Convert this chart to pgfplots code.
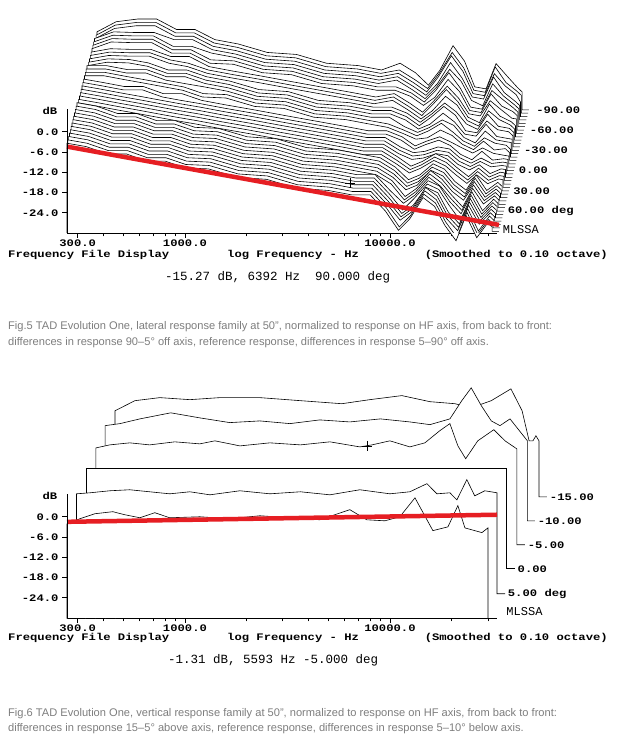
\documentclass[border=0pt]{standalone}
\usepackage{fontspec}
\usepackage{pgfplots}
\usepackage{pgfplotstable}
\pgfplotsset{compat=1.18}
\setmainfont{Liberation Sans}
\newfontfamily\mono{Liberation Mono}
\newfontfamily\monow[FakeStretch=1.22]{Liberation Mono}
\definecolor{capgray}{RGB}{125,125,125}
\definecolor{redline}{RGB}{230,30,35}

\pgfplotstableread{
f T m c0 c1 c2 c3 c4 c5 c6 c7 c8 c9 c10 c11 c12 c13 c14 c15 c16 c17 c18 c19 c20 c21 c22 c23 c24 c25 c26 c27 c28 c29 c30 c31 c32 c33 c34 c35 c36
266 -30 0     0 0 0 0 0 0 0 0 0 0 0 0 0 0 0 0 0 0 0   0 0 0 0 0 0 0 0 0 0 0 0 0 0 0 0 0 0
266 -4.4 1    1 1 1 1 1 1 1 1 1 1 1 1 1 0 0 0 0 0 0   0 0 0 0 0 0 -1 -1 -1 -1 -1 -1 -1 -1 -1 -2 -2 -2
330 -5.4 1    1 1 1 1 1 1 1 1 1 1 1 1 1 0 0 0 0 0 0   0 0 1 1 1 1 1 1 1 1 1 2 2 2 2 2 2 2
420 -6.6 1    0 0 0 0 0 0 0 0 0 0 0 0 0 0 0 0 0 0 0   0 0 1 1 1 1 2 2 2 2 2 3 3 3 3 4 4 4
520 -7.6 1    1 1 1 1 1 1 1 1 1 1 1 1 1 0 0 0 0 0 0   1 1 1 1 2 2 2 2 3 3 3 4 4 4 4 5 5 5
650 -8.7 1    0 0 0 0 0 0 0 0 0 0 0 0 0 0 0 0 0 0 0   0 0 1 1 1 1 1 1 2 2 2 2 2 2 3 3 3 3
800 -9.7 1    1 1 1 1 1 1 1 1 1 1 1 1 1 0 0 0 0 0 0   0 1 1 1 1 2 2 2 2 2 3 3 3 3 4 4 4 4
1000 -10.7 1  0 0 0 0 0 0 0 0 0 0 0 0 0 0 0 0 0 0 0   0 0 0 0 1 1 1 1 1 1 1 1 1 2 2 2 2 2
1300 -12.0 1  1 1 1 1 1 1 1 1 1 1 1 1 1 0 0 0 0 0 0   0 0 1 1 1 1 1 1 1 1 1 2 2 2 2 2 2 2
1800 -13.5 1  0 0 0 0 0 0 0 0 0 0 0 0 0 0 0 0 0 0 0   0 0 0 0 0 0 0 0 1 1 1 1 1 1 1 1 1 1
2500 -15.1 1  1 1 1 1 1 1 1 1 1 1 1 1 1 0 0 0 0 0 0   0 0 1 1 1 1 1 1 1 1 1 2 2 2 2 2 2 2
3500 -16.7 1  0 0 0 0 0 0 0 0 0 0 0 0 0 0 0 0 0 0 0   0 0 0 0 0 0 0 0 1 1 1 1 1 1 1 1 1 1
5000 -18.4 1  1 1 1 1 1 1 1 1 1 1 1 1 1 0 0 0 0 0 0   0 0 1 1 1 1 1 1 1 1 1 2 2 2 2 2 2 2
6500 -19.7 1  1 1 1 1 1 1 1 1 1 1 1 1 1 0 0 0 0 0 0   0 0 1 1 1 1 1 1 1 1 1 2 2 2 2 2 2 2
8000 -20.7 1  2 2 2 2 2 2 2 1 1 1 1 1 1 1 1 1 1 1 1   1 1 1 1 2 2 2 2 3 3 3 3 3 4 4 4 4 5
9500 -21.5 1  -2 -2 -2 -2 -2 -2 -2 -1 -1 -1 -1 -1 -1 -1 -1 -1 -1 -1 -1   0 0 0 0 0 1 1 1 1 1 1 2 2 2 2 2 2 3
11000 -22.2 1 -7 -7 -6 -6 -6 -6 -5 -5 -5 -4 -4 -4 -4 -3 -3 -3 -2 -2 -2   -2 -2 -1 -1 -1 -1 -1 -1 -1 -1 -1 0 0 0 0 0 0 0
12500 -22.8 1 -3 -3 -3 -3 -3 -2 -2 -2 -2 -2 -2 -2 -2 -1 -1 -1 -1 -1 -1   0 0 0 1 1 1 2 2 2 3 3 3 4 4 4 5 5 5
14500 -23.5 1 4 4 4 4 3 3 3 3 3 3 2 2 2 2 2 2 1 1 1   2 2 3 4 4 5 6 6 7 8 8 9 10 10 11 12 12 13
16500 -24.1 1 2 2 2 2 2 2 2 1 1 1 1 1 1 1 1 1 1 1 1   1 1 2 2 3 3 4 4 5 5 5 6 6 7 7 8 8 9
18500 -24.7 1 -3 -3 -3 -3 -3 -2 -2 -2 -2 -2 -2 -2 -2 -1 -1 -1 -1 -1 -1   -1 0 0 0 0 0 0 1 1 1 1 1 1 2 2 2 2 2
21000 -25.3 1 -7 -7 -6 -6 -6 -6 -5 -5 -5 -4 -4 -4 -4 -3 -3 -3 -2 -2 -2   -2 -1 -1 -1 -1 0 0 0 0 0 1 1 1 1 2 2 2 2
23500 -25.8 1 1 1 1 1 1 1 1 1 1 1 1 1 1 0 0 0 0 0 0   1 1 2 2 3 4 4 5 5 6 6 7 7 8 9 9 10 10
26500 -26.4 1 -5 -5 -5 -4 -4 -4 -4 -4 -3 -3 -3 -3 -3 -2 -2 -2 -2 -1 -1   -1 0 0 1 1 1 2 2 3 3 4 4 5 5 5 6 6 7
30000 -27.0 1 0 0 0 0 0 0 0 0 0 0 0 0 0 0 0 0 0 0 0   0 0 1 1 1 1 2 2 2 2 2 3 3 3 3 4 4 4
31500 -27.2 1 -1 -1 -1 -1 -1 -1 -1 -1 -1 -1 -1 -1 -1 0 0 0 0 0 0   0 0 0 0 1 1 1 1 1 1 2 2 2 2 2 2 3 3
31500 -29.5 1 0 0 0 0 0 0 0 0 0 0 0 0 0 0 0 0 0 0 0   0 0 0 0 0 0 0 0 0 0 0 0 0 0 0 0 0 0
34000 -29.5 1 0 0 0 0 0 0 0 0 0 0 0 0 0 0 0 0 0 0 0   0 0 0 0 0 0 0 0 0 0 0 0 0 0 0 0 0 0
}\topdata

\pgfplotstableread{
f d
266 -30.2
266 -2.1
307 -0.6
364 0.9
445 1.5
509 0.6
603 -0.3
713 1.2
843 -0.3
1182 0
1656 -0.6
2318 0.3
3250 -0.3
4550 -0.9
6370 2.1
7710 -0.9
9440 -1.2
11170 0
13240 5.6
16190 -4.1
19170 -3.0
21440 3.3
23200 -3.3
28080 -4.7
30050 -3.3
30050 -30.2
}\bA
\pgfplotstableread{
f d
296 -30.2
296 6.8
344 7.1
430 7.7
538 8.0
673 7.4
843 6.8
1057 7.4
1324 6.5
1854 7.7
2596 6.8
3660 7.4
5094 6.5
7130 8.0
9990 6.8
12500 7.4
15140 9.8
16940 6.8
19600 7.1
21200 5.0
23700 11.0
25900 6.2
29000 7.7
33270 7.1
33270 -22.8
36400 -22.8
}\bB
\pgfplotstableread{
f d
329 -30.2
329 14.5
37100 14.5
37100 -15.4
40600 -15.4
}\bC
\pgfplotstableread{
f d
368 -30.2
368 20.4
430 21.3
538 21.9
673 21.3
893 22.2
1182 21.6
1400 22.5
1854 21.0
2596 21.9
3660 21.3
5094 22.2
7130 20.7
8170 21.3
9990 22.5
12500 20.7
14800 21.9
17500 25.5
19600 27.6
21440 21.0
23400 17.2
26800 22.5
32100 25.8
36400 22.5
41600 20.1
41600 -8.3
45500 -8.3
}\bD
\pgfplotstableread{
f d
408 -30.2
408 27.0
482 27.6
603 29.0
853 30.8
1182 29.3
1656 27.9
2318 28.4
3250 27.6
4550 28.7
6370 28.1
8980 29.0
12500 28.1
15670 27.3
19600 29.0
22400 34.4
24900 38.2
27900 32.9
31200 28.4
34400 27.0
38500 29.0
46800 22.5
46800 -1.2
50900 -1.2
}\bE
\pgfplotstableread{
f d
456 -30.2
456 31.4
570 34.4
755 35.3
1057 34.7
1479 35.3
2318 35.3
3660 34.4
5820 33.5
7980 34.7
11430 35.9
15670 34.1
20750 33.5
24900 32.3
31200 34.4
38900 37.9
44100 31.4
47700 22.5
49800 22.5
51500 24.0
53300 22.5
53300 5.9
58300 5.9
}\bF

\newcommand\tfont{\monow\bfseries\fontsize{10}{11}\selectfont}
\newcommand\cfont{\fontsize{11.1}{13}\selectfont}

\begin{document}
\begin{tikzpicture}[x=1pt,y=1pt]
\useasboundingbox (0,0) rectangle (617,742);

% ---------------- top chart ----------------
\begin{axis}[at={(67pt,509pt)}, anchor=south west, height=222.75pt, ymax=66,
    scale only axis, width=430pt,
    xmode=log, xmin=266, xmax=33270, ymin=0,
    clip=false,
    axis x line=bottom, axis y line=left,
    x axis line style={-, line width=0.7pt},
    y axis line style={draw=none},
    tick align=outside,
    xtick={300,1000,10000},
    xticklabels={300.0,1000.0,10000.0},
    minor xtick={400,500,600,700,800,900,2000,3000,4000,5000,6000,7000,8000,9000,20000,30000},
    ytick={6,12,18,24,30},
    yticklabels={-24.0,-18.0,-12.0,-6.0,0.0},
    major tick length=5pt, minor tick length=3.5pt,
    tick style={black, line width=0.6pt},
    tick label style={font=\tfont},
    xticklabel style={yshift=2pt}]
\pgfplotsinvokeforeach{36,35,...,0}{
  \addplot[draw=none, fill=white, forget plot]
    table[x expr=\thisrow{f}*1.0094^(#1), y expr=\thisrow{T}+30+\thisrow{c#1}+#1*\thisrow{m}] {\topdata} \closedcycle;
  \addplot[black, line width=0.6pt, forget plot]
    table[x expr=\thisrow{f}*1.0094^(#1), y expr=\thisrow{T}+30+\thisrow{c#1}+#1*\thisrow{m}] {\topdata};
}
\addplot[redline, line width=4.5pt] coordinates {(266,25.6) (34000,2.4)};
\addplot[only marks, mark=+, mark size=5pt, black, thin] coordinates {(6392,14.73)};
\draw[line width=0.7pt] (axis cs:266,0) -- (axis cs:266,36.6);
\node[font=\tfont, anchor=west, inner sep=1pt] at (axis cs:51000,36.5) {-90.00};
\node[font=\tfont, anchor=west, inner sep=1pt] at (axis cs:47500,30.5) {-60.00};
\node[font=\tfont, anchor=west, inner sep=1pt] at (axis cs:44500,24.5) {-30.00};
\node[font=\tfont, anchor=west, inner sep=1pt] at (axis cs:41900,18.5) {0.00};
\node[font=\tfont, anchor=west, inner sep=1pt] at (axis cs:39400,12.5) {30.00};
\node[font=\tfont, anchor=west, inner sep=1pt] at (axis cs:37045,6.5) {60.00 deg};
\node[font=\mono\fontsize{12}{13}\selectfont, anchor=west, inner sep=1pt] at (axis cs:35020,1.0) {MLSSA};
\end{axis}

% ---------------- bottom chart ----------------
\begin{axis}[at={(67pt,124pt)}, anchor=south west, height=253.1pt, ymax=75,
    scale only axis, width=430pt,
    xmode=log, xmin=266, xmax=33270, ymin=0,
    clip=false,
    axis x line=bottom, axis y line=left,
    x axis line style={-, line width=0.7pt},
    y axis line style={draw=none},
    tick align=outside,
    xtick={300,1000,10000},
    xticklabels={300.0,1000.0,10000.0},
    minor xtick={400,500,600,700,800,900,2000,3000,4000,5000,6000,7000,8000,9000,20000,30000},
    ytick={6,12,18,24,30},
    yticklabels={-24.0,-18.0,-12.0,-6.0,0.0},
    major tick length=5pt, minor tick length=3.5pt,
    tick style={black, line width=0.6pt},
    tick label style={font=\tfont},
    xticklabel style={yshift=2pt}]
\addplot[draw=none, fill=white, forget plot] table[x=f, y expr=\thisrow{d}+30] {\bF} \closedcycle;
\addplot[black, line width=0.6pt, forget plot] table[x=f, y expr=\thisrow{d}+30] {\bF};
\addplot[draw=none, fill=white, forget plot] table[x=f, y expr=\thisrow{d}+30] {\bE} \closedcycle;
\addplot[black, line width=0.6pt, forget plot] table[x=f, y expr=\thisrow{d}+30] {\bE};
\addplot[draw=none, fill=white, forget plot] table[x=f, y expr=\thisrow{d}+30] {\bD} \closedcycle;
\addplot[black, line width=0.6pt, forget plot] table[x=f, y expr=\thisrow{d}+30] {\bD};
\addplot[draw=none, fill=white, forget plot] table[x=f, y expr=\thisrow{d}+30] {\bC} \closedcycle;
\addplot[black, line width=0.6pt, forget plot] table[x=f, y expr=\thisrow{d}+30] {\bC};
\addplot[draw=none, fill=white, forget plot] table[x=f, y expr=\thisrow{d}+30] {\bB} \closedcycle;
\addplot[black, line width=0.6pt, forget plot] table[x=f, y expr=\thisrow{d}+30] {\bB};
\addplot[draw=none, fill=white, forget plot] table[x=f, y expr=\thisrow{d}+30] {\bA} \closedcycle;
\addplot[black, line width=0.6pt, forget plot] table[x=f, y expr=\thisrow{d}+30] {\bA};
\addplot[redline, line width=4.5pt] coordinates {(266,28.5) (33270,30.6)};
\addplot[only marks, mark=+, mark size=5pt, black, thin] coordinates {(7750,51.0)};
\draw[line width=0.7pt] (axis cs:266,0) -- (axis cs:266,36.6);
\node[font=\tfont, anchor=west, inner sep=1pt] at (axis cs:37100,7.2) {5.00 deg};
\node[font=\tfont, anchor=west, inner sep=1pt] at (axis cs:41400,14.6) {0.00};
\node[font=\tfont, anchor=west, inner sep=1pt] at (axis cs:46400,21.7) {-5.00};
\node[font=\tfont, anchor=west, inner sep=1pt] at (axis cs:51900,28.8) {-10.00};
\node[font=\tfont, anchor=west, inner sep=1pt] at (axis cs:59500,35.9) {-15.00};
\node[font=\mono\fontsize{12}{13}\selectfont, anchor=west, inner sep=1pt] at (axis cs:36500,1.8) {MLSSA};
\end{axis}

% ---------------- texts ----------------
\node[font=\tfont, inner sep=0pt] at (50,631) {dB};
\node[font=\tfont, inner sep=0pt, anchor=west] at (8,487) {Frequency File Display};
\node[font=\tfont, inner sep=0pt, anchor=west] at (227,487) {log Frequency - Hz};
\node[font=\tfont, inner sep=0pt, anchor=east] at (608,487) {(Smoothed to 0.10 octave)};
\node[font=\mono\fontsize{12.5}{13}\selectfont, anchor=west, inner sep=0pt] at (165,465) {-15.27 dB, 6392 Hz\ \ 90.000 deg};
\node[anchor=west, inner sep=0pt, text=capgray, font=\cfont] at (8,415) {Fig.5 TAD Evolution One, lateral response family at 50", normalized to response on HF axis, from back to front:};
\node[anchor=west, inner sep=0pt, text=capgray, font=\cfont] at (8,399) {differences in response 90–5° off axis, reference response, differences in response 5–90° off axis.};

\node[font=\tfont, inner sep=0pt] at (50,246) {dB};
\node[font=\tfont, inner sep=0pt, anchor=west] at (8,104) {Frequency File Display};
\node[font=\tfont, inner sep=0pt, anchor=west] at (227,104) {log Frequency - Hz};
\node[font=\tfont, inner sep=0pt, anchor=east] at (608,104) {(Smoothed to 0.10 octave)};
\node[font=\mono\fontsize{12.5}{13}\selectfont, anchor=west, inner sep=0pt] at (168,82) {-1.31 dB, 5593 Hz -5.000 deg};
\node[anchor=west, inner sep=0pt, text=capgray, font=\cfont] at (8,28) {Fig.6 TAD Evolution One, vertical response family at 50", normalized to response on HF axis, from back to front:};
\node[anchor=west, inner sep=0pt, text=capgray, font=\cfont] at (8,13) {differences in response 15–5° above axis, reference response, differences in response 5–10° below axis.};
\end{tikzpicture}
\end{document}
